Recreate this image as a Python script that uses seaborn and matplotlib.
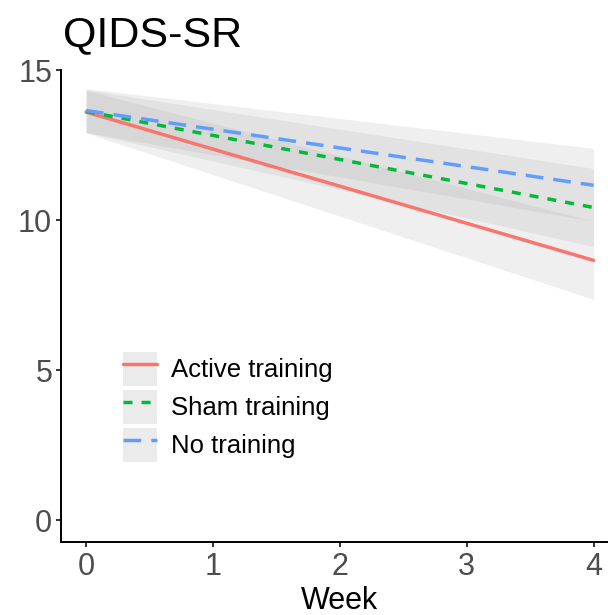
import numpy as np
import pandas as pd
import seaborn as sns
import matplotlib.pyplot as plt
from matplotlib.patches import Patch
from matplotlib.lines import Line2D

# fitted trajectories (weeks 0 and 4, straight lines)
weeks = [0, 4]
groups = ['Active training', 'Sham training', 'No training']
active_fit = [13.60, 8.66]
active_lo = [12.90, 7.36]
active_hi = [14.32, 9.96]
sham_fit = [13.62, 10.42]
sham_lo = [12.92, 9.12]
sham_hi = [14.34, 11.72]
none_fit = [13.65, 11.16]
none_lo = [12.92, 9.96]
none_hi = [14.38, 12.39]

week_ticks = [0, 1, 2, 3, 4]
score_ticks = [0, 5, 10, 15]

colors = {'Active training': '#F8766D', 'Sham training': '#00BA38', 'No training': '#619CFF'}
dashes = {'Active training': '', 'Sham training': (2.6, 2.6), 'No training': (5.1, 2.9)}

df = pd.DataFrame({
    'week': weeks * 3,
    'group': np.repeat(groups, len(weeks)),
    'qids': active_fit + sham_fit + none_fit,
    'lo': active_lo + sham_lo + none_lo,
    'hi': active_hi + sham_hi + none_hi,
})

sns.set_style('ticks')
plt.rcParams['font.family'] = ['Liberation Sans', 'DejaVu Sans']

fig = plt.figure(figsize=(6.08, 6.15), dpi=100)
ax = fig.add_axes([60.7 / 608, 73 / 615, 558.3 / 608, 472 / 615])

# confidence ribbons
for g in groups:
    sub = df[df['group'] == g]
    ax.fill_between(sub['week'], sub['lo'], sub['hi'], color='#999999', alpha=0.15,
                    linewidth=0, zorder=1)

sns.lineplot(data=df, x='week', y='qids', hue='group', style='group', palette=colors,
             dashes=dashes, linewidth=2.5, legend=False, ax=ax, zorder=3)
for ln in ax.lines:
    ln.set_dash_capstyle('butt')

ax.set_xlim(-0.2, 4.2)
ax.set_ylim(-0.72, 15.0)
ax.set_xticks(week_ticks)
ax.set_yticks(score_ticks)
ax.tick_params(axis='both', labelsize=22, labelcolor='#4D4D4D', length=3.6, width=1.4,
               color='#333333')
ax.tick_params(axis='y', pad=2.5)
ax.tick_params(axis='x', pad=3.5)
ax.set_xlabel('Week', fontsize=22, labelpad=3.2, color='black')
ax.set_ylabel('')
for side in ['top', 'right']:
    ax.spines[side].set_visible(False)
for side in ['left', 'bottom']:
    ax.spines[side].set_linewidth(1.4)
    ax.spines[side].set_color('black')

handles = []
for g in groups:
    key_line = Line2D([], [], color=colors[g], linewidth=2.5)
    if dashes[g]:
        key_line.set_dashes(dashes[g])
        key_line.set_dash_capstyle('butt')
    handles.append((Patch(facecolor='#EBEBEB', edgecolor='none'), key_line))

ax.legend(handles, groups, loc='upper left',
          bbox_to_anchor=((122.7 - 60.7) / 558.3, (542 - 351.7) / 472),
          frameon=False, fontsize=18.5, borderpad=0, borderaxespad=0,
          handlelength=1.32, handleheight=1.66, handletextpad=0.55,
          labelspacing=0.156, labelcolor='black')

fig.text(63 / 608, 1 - 46.5 / 615, 'QIDS-SR', fontsize=31, ha='left', va='baseline',
         color='black')

fig.savefig('out.png', dpi=100)
